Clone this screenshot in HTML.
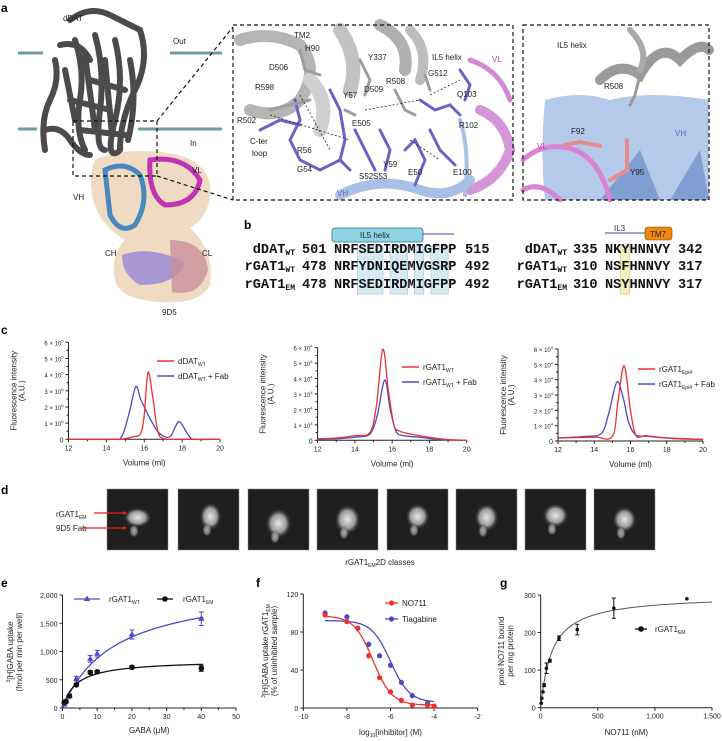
<!DOCTYPE html>
<html><head><meta charset="utf-8"><style>
body{margin:0;background:#fff}
svg{display:block;font-family:"Liberation Sans",Arial,sans-serif}
.lab{font-weight:bold;font-size:12px}
.t{font-size:8px;fill:#222}
.seq{font-family:"Liberation Mono",monospace;font-weight:bold;font-size:13.6px;fill:#111}
.ax{stroke:#222;stroke-width:1;fill:none}
</style></head><body>
<svg id="fig" width="722" height="741" viewBox="0 0 722 741" xmlns="http://www.w3.org/2000/svg">
<g>
<text class="lab" x="1" y="12">a</text>
<g stroke="#6f9aa3" stroke-width="3">
<line x1="18" y1="53" x2="43" y2="53"/><line x1="170" y1="53" x2="222" y2="53"/>
<line x1="18" y1="129" x2="37" y2="129"/><line x1="138" y1="129" x2="222" y2="129"/>
</g>
<g>
<path d="M95,160 Q120,148 160,152 Q205,156 210,185 Q212,215 190,228 Q215,250 210,285 Q200,305 160,302 Q120,300 115,280 Q110,255 125,240 Q100,225 93,200 Q88,175 95,160Z" fill="#ecd7bb" opacity="0.9"/>
<path d="M105,170 Q125,160 140,175 Q150,200 135,225 Q120,235 110,215 Z" fill="none" stroke="#4a86c0" stroke-width="5"/>
<path d="M150,160 Q185,155 200,180 Q195,205 165,205 Q148,195 150,160Z" fill="none" stroke="#c232b4" stroke-width="5"/>
<path d="M122,255 Q150,245 185,262 Q178,285 140,285 Q122,275 122,255Z" fill="#9b8bd6" opacity="0.85"/>
<path d="M170,240 Q205,240 208,270 Q200,298 172,292 Z" fill="#c9909c" opacity="0.8"/>
</g>
<g fill="none" stroke="#4b4b4b" stroke-width="6" stroke-linecap="round">
<path d="M70,20 Q90,5 110,15 T140,30 Q150,60 135,90 T120,150"/>
<path d="M55,60 Q60,80 50,100 T45,150"/>
<path d="M75,40 Q85,70 80,100 T85,150"/>
<path d="M95,35 Q105,70 100,110 T105,150"/>
<path d="M115,40 Q125,80 115,120 T118,152"/>
<path d="M60,45 Q80,40 90,60"/>
<path d="M45,130 Q60,125 70,140 T90,155"/>
<path d="M130,60 Q138,100 128,140"/>
<path d="M65,70 L75,120"/><path d="M85,55 L95,130"/><path d="M105,60 L112,135"/>
<path d="M90,80 L125,90"/><path d="M70,100 L110,110"/><path d="M80,130 L125,135"/>
</g>
<text class="t" x="63" y="21" font-size="9">dDAT</text>
<text class="t" x="173" y="44" font-size="9">Out</text>
<text class="t" x="190" y="146" font-size="9">In</text>
<text class="t" x="73" y="200" font-size="9">VH</text>
<text class="t" x="192" y="173" font-size="9">VL</text>
<text class="t" x="105" y="256" font-size="9">CH</text>
<text class="t" x="202" y="256" font-size="9">CL</text>
<text class="t" x="162" y="315" font-size="9">9D5</text>
<g fill="none" stroke="#111" stroke-width="1.2" stroke-dasharray="4,3">
<rect x="73" y="121" width="84" height="55"/>
<line x1="157" y1="121" x2="233" y2="27"/><line x1="157" y1="176" x2="233" y2="200"/>
</g>
<g>
<g fill="none" stroke-linecap="round">
<path d="M240,40 Q270,30 300,45 Q320,70 300,100 Q280,120 250,110" stroke="#b5b5b5" stroke-width="12"/>
<path d="M340,30 Q360,60 350,90" stroke="#c2c2c2" stroke-width="14"/>
<path d="M380,25 Q410,40 405,70" stroke="#b0b0b0" stroke-width="12"/>
<path d="M410,30 Q430,50 420,80" stroke="#bdbdbd" stroke-width="10"/>
<path d="M310,80 Q330,100 320,130" stroke="#d0d0d0" stroke-width="14"/>
<path d="M480,110 Q505,120 510,150 Q500,180 470,190" stroke="#d596d8" stroke-width="10"/>
<path d="M470,60 Q500,70 510,100" stroke="#d08ad2" stroke-width="5"/>
<path d="M340,195 Q380,175 420,190 Q450,200 470,180" stroke="#a8c0e6" stroke-width="10"/>
<path d="M460,120 Q470,150 465,195" stroke="#a8c0e6" stroke-width="4"/>
<g stroke="#6a62c8" stroke-width="3">
<path d="M295,100 L300,120 L290,140 L300,160 L320,170 L340,160 L350,170"/>
<path d="M330,90 L340,110 L345,140 L340,160"/>
<path d="M355,130 L365,150 L375,170"/>
<path d="M380,130 L390,150 L385,170"/>
<path d="M405,150 L415,140 L425,160 L415,185"/>
<path d="M420,100 L435,110 L450,105 L460,115"/>
<path d="M430,130 L440,150 L455,165"/>
<path d="M460,70 L470,85 L465,100"/>
<path d="M260,130 L280,120 L300,125"/>
</g>
<g stroke="#9e9e9e" stroke-width="3">
<path d="M270,110 L290,105 L310,100"/><path d="M300,50 L305,70 L320,75"/>
<path d="M360,60 L370,80 L365,95"/><path d="M395,90 L405,110 L415,115"/>
<path d="M425,75 L430,90"/><path d="M345,110 L355,115"/>
</g>
</g>
<g stroke="#222" stroke-width="0.8" stroke-dasharray="2,2">
<line x1="270" y1="115" x2="350" y2="140"/><line x1="300" y1="95" x2="330" y2="150"/>
<line x1="365" y1="110" x2="420" y2="100"/><line x1="430" y1="95" x2="460" y2="80"/>
<line x1="410" y1="140" x2="440" y2="160"/>
</g>
<g font-size="8" fill="#222">
<text x="294" y="38">TM2</text><text x="305" y="51">H90</text><text x="368" y="60">Y337</text>
<text x="432" y="60">IL5 helix</text><text x="269" y="70">D506</text><text x="428" y="76">G512</text>
<text x="255" y="90">R598</text><text x="386" y="84">R508</text><text x="343" y="98">Y57</text>
<text x="364" y="92">D509</text><text x="457" y="97">Q103</text><text x="237" y="123">R502</text>
<text x="352" y="126">E505</text><text x="459" y="128">R102</text><text x="250" y="144">C-ter</text>
<text x="252" y="156">loop</text><text x="297" y="153">R56</text><text x="297" y="172">G54</text>
<text x="359" y="179">S52</text><text x="373" y="179">S53</text><text x="383" y="167">Y59</text>
<text x="408" y="175">E50</text><text x="453" y="175">E100</text>
</g>
<text x="337" y="196" font-size="8" fill="#6a62c8">VH</text>
<text x="492" y="62" font-size="8" fill="#c040b8">VL</text>
<rect x="233" y="25" width="280" height="175" fill="none" stroke="#111" stroke-width="1.2" stroke-dasharray="4,3"/>
</g>
<g>
<path d="M545,100 Q580,90 610,100 Q650,90 709,100 L709,200 L545,200 Q540,150 545,100Z" fill="#b5c9ea"/>
<path d="M600,200 L640,150 L660,200Z M670,200 L700,150 L709,200Z" fill="#7f9fd3"/>
<g fill="none" stroke-linecap="round">
<path d="M600,80 Q620,60 640,75 Q660,40 680,60 Q700,40 709,50" stroke="#9a9a9a" stroke-width="10"/>
<path d="M630,30 Q650,50 640,70" stroke="#aaa" stroke-width="6"/>
<path d="M523,160 Q545,140 575,150 Q600,160 610,200" stroke="#d884d4" stroke-width="5"/>
<path d="M523,190 Q540,180 560,200" stroke="#d884d4" stroke-width="5"/>
<path d="M640,75 L635,95 L630,105" stroke="#9a9a9a" stroke-width="3"/>
<path d="M565,145 L580,142 L600,146" stroke="#e58c8c" stroke-width="4"/>
<path d="M627,140 L627,170 L610,180" stroke="#e58c8c" stroke-width="4"/>
</g>
<g font-size="8" fill="#222"><text x="557" y="48">IL5 helix</text><text x="604" y="89">R508</text><text x="571" y="134">F92</text><text x="630" y="175">Y95</text></g>
<text x="537" y="149" font-size="8" fill="#c040b8">VL</text>
<text x="675" y="136" font-size="8" fill="#6a62c8">VH</text>
<rect x="523" y="25" width="186" height="175" fill="none" stroke="#111" stroke-width="1.2" stroke-dasharray="4,3"/>
</g>
</g>
<g>
<text class="lab" x="244" y="229">b</text>
<rect x="332" y="228" width="91" height="14" rx="3" fill="#8fd4e6" stroke="#3a6a80" stroke-width="0.8"/>
<text x="360" y="238" font-size="8" fill="#222">IL5 helix</text>
<line x1="423" y1="234" x2="454" y2="234" stroke="#4a3fa0" stroke-width="1"/>
<line x1="605" y1="233" x2="645" y2="233" stroke="#4a3fa0" stroke-width="1"/>
<text x="614" y="231" font-size="8" fill="#333">IL3</text>
<rect x="645" y="227" width="27" height="13" rx="3" fill="#f0880c" stroke="#7a4200" stroke-width="0.6"/>
<text x="650" y="237" font-size="8" fill="#222">TM7</text>
<g id="hl" fill="#d6eaf2" stroke="#a7cfe0" stroke-width="0.8"></g>
<g id="seqs"></g>
</g>
<text class="lab" x="1" y="334">c</text>
<g id="pc"></g>
<g>
<text class="lab" x="1" y="494">d</text>
<defs><radialGradient id="blob"><stop offset="0" stop-color="#e8e8e8"/><stop offset="0.6" stop-color="#9a9a9a"/><stop offset="1" stop-color="#2a2a2a" stop-opacity="0"/></radialGradient></defs>
<g id="classes"></g>
<text x="56" y="517" font-size="8" fill="#222">rGAT1<tspan font-size="5" dy="2">EM</tspan></text>
<text x="56" y="531" font-size="8" fill="#222">9D5 Fab</text>
<line x1="94" y1="513" x2="125" y2="513" stroke="#e02020" stroke-width="1.2"/><path d="M127,513 l-4,-2 v4z" fill="#e02020"/>
<line x1="82" y1="528" x2="125" y2="528" stroke="#e02020" stroke-width="1.2"/><path d="M127,528 l-4,-2 v4z" fill="#e02020"/>
<text x="380" y="565" font-size="8" fill="#222" text-anchor="middle">rGAT1<tspan font-size="5" dy="2">EM</tspan><tspan dy="-2">2D classes</tspan></text>
</g>
<text class="lab" x="1" y="587">e</text>
<text class="lab" x="256" y="587">f</text>
<text class="lab" x="500" y="587">g</text>
<g id="pe"></g><g id="pf"></g><g id="pg"></g>
</svg>
<script>
const c1RedVol=[12,14.5,15,15.4,15.8,16.0,16.2,16.45,16.7,17.0,18,20];
const c1Red=[0,0,0.05,0.15,0.35,1.5,4.15,2.6,0.6,0.05,0,0];
const c1BlueVol=[12,14.3,14.8,15.2,15.55,15.8,16.0,16.3,16.7,17.1,17.4,17.65,17.85,18.1,18.4,18.7,20];
const c1Blue=[0,0,0.15,1.6,3.25,2.5,2.0,1.3,0.5,0.15,0.2,0.8,1.1,0.7,0.15,0,0];
const c2RedVol=[12,13,14,14.8,15.15,15.5,15.8,16.1,16.4,17,18,19,20];
const c2Red=[0.1,0.15,0.3,0.5,2.2,5.9,3.2,1.0,0.6,0.4,0.2,0.05,0];
const c2BlueVol=[12,13,14,14.8,15.2,15.6,15.9,16.2,16.6,17.5,18.5,20];
const c2Blue=[0.05,0.1,0.2,0.4,1.6,3.9,2.0,0.6,0.3,0.2,0.05,0];
const c3RedVol=[12,14,15,15.3,15.65,16.0,16.3,16.8,17.5,18.5,20];
const c3Red=[0.2,0.25,0.3,2.5,4.9,2.0,0.35,0.35,0.25,0.15,0.1];
const c3BlueVol=[12,13.5,14.4,14.8,15.25,15.6,15.9,16.3,17,18,20];
const c3Blue=[0.2,0.3,0.5,1.8,3.85,2.8,1.2,0.4,0.3,0.2,0.1];
const cTicksX=[12,14,16,18,20];
const cTicksY=[1,2,3,4,5,6];

const eGaba=[0.5,1,2,4,8,10,20,40];
const eWT=[60,130,220,520,870,960,1300,1580];
const eWTerr=[20,20,30,40,60,60,80,120];
const eEM=[100,110,210,410,630,640,720,700];
const eEMerr=[15,15,20,25,30,25,30,50];
const eFitWT=[2200,15];
const eFitEM=[850,4];
const eTicksX=[0,10,20,30,40,50];
const eTicksY=[0,500,1000,1500,2000];
const eTickLabelsY=["0","500","1,000","1,500","2,000"];

const fLog=[-9,-8,-7.5,-7,-6.5,-6,-5.5,-5,-4.3,-4];
const fNO711=[98,91,84,55,32,17,8,3,3,2];
const fTiag=[100,96,84,67,55,45,27,13,5,2];
const fErr=[2,3,2,3,2,2,3,2,2,1];
const fFitNO=[97,3,-6.8,1.0];
const fFitTi=[92,6,-6.0,1.0];
const fTicksX=[-10,-8,-6,-4,-2];
const fTicksY=[0,40,80,120];

const gConc=[5,10,20,30,50,80,160,320,640,1280];
const gBound=[12,25,42,60,105,125,185,208,265,290];
const gErr=[0,0,0,4,14,4,6,14,27,0];
const gFit=[300,100];
const gTicksX=[0,500,1000,1500];
const gTickLabelsX=["0","500","1,000","1,500"];
const gTicksY=[0,100,200,300];

const NS="http://www.w3.org/2000/svg";
function mk(tag,attrs,parent){const e=document.createElementNS(NS,tag);for(const k in attrs)e.setAttribute(k,attrs[k]);parent.appendChild(e);return e;}
function lin(d0,d1,r0,r1){return v=>r0+(v-d0)/(d1-d0)*(r1-r0);}
function smooth(pts){let d="M"+pts[0][0]+","+pts[0][1];for(let i=0;i<pts.length-1;i++){const p0=pts[Math.max(0,i-1)],p1=pts[i],p2=pts[i+1],p3=pts[Math.min(pts.length-1,i+2)];const c1x=p1[0]+(p2[0]-p0[0])/6,c1y=p1[1]+(p2[1]-p0[1])/6,c2x=p2[0]-(p3[0]-p1[0])/6,c2y=p2[1]-(p3[1]-p1[1])/6;d+=` C${c1x},${c1y} ${c2x},${c2y} ${p2[0]},${p2[1]}`;}return d;}
function txt(parent,x,y,s,opt){const t=mk("text",Object.assign({x:x,y:y,"font-size":8,fill:"#222"},opt||{}),parent);t.textContent=s;return t;}

(function(){
const seqG=document.getElementById("seqs"),hl=document.getElementById("hl");
const names=["dDAT","rGAT1","rGAT1"],subs=["WT","WT","EM"];
const lnum=["501","478","478"],rnum=["515","492","492"],seqL=["NRFSEDIRDMIGFPP","NRFYDNIQEMVGSRP","NRFSEDIRDMIGFPP"];
const lnum2=["335","310","310"],rnum2=["342","317","317"],seqR=["NKYHNNVY","NSFHNNVY","NSYHNNVY"];
const rows=[253,270,288],cw=8.16;
[[3,3],[7,2],[10,1],[12,2]].forEach(([s,n])=>{const r=mk("rect",{x:334+s*cw-1,y:246,width:n*cw+1,height:48},hl);});
const yr=mk("rect",{x:605+2*cw-1,y:246,width:cw+1,height:48,fill:"#f6efbf",stroke:"#e0d080"},hl);


const hlSet=new Set([3,4,5,7,8,10,12,13]);
rows.forEach((y,i)=>{
 [295,567].forEach(xr=>{const t=mk("text",{x:xr,y:y,"text-anchor":"end",class:"seq"},seqG);t.textContent=names[i];const s=mk("tspan",{"font-size":"8",dy:"2"},t);s.textContent=subs[i];});
 const a=mk("text",{x:302,y:y,class:"seq"},seqG);a.textContent=lnum[i];
 const b=mk("text",{x:465,y:y,class:"seq"},seqG);b.textContent=rnum[i];
 const c=mk("text",{x:573,y:y,class:"seq"},seqG);c.textContent=lnum2[i];
 const d=mk("text",{x:678,y:y,class:"seq"},seqG);d.textContent=rnum2[i];
 seqL[i].split("").forEach((ch,k)=>{const t=mk("text",{x:334+k*cw,y:y,class:"seq",fill:hlSet.has(k)?"#7fa7bd":"#111"},seqG);t.textContent=ch;});
 seqR[i].split("").forEach((ch,k)=>{const t=mk("text",{x:605+k*cw,y:y,class:"seq",fill:k===2?"#c8b860":"#111"},seqG);t.textContent=ch;});
});
})();

function fsecPlot(g,x0,x1,y0,y6,exp,red,redV,blue,blueV,name,legX,legY,sub){
 const sx=lin(12,20,x0,x1),sy=lin(0,6,y0,y6);
 const gg=mk("g",{},g);
 
 
 mk("line",{x1:x0,y1:y6,x2:x0,y2:y0,class:"ax"},gg);
 mk("line",{x1:x0,y1:y0,x2:x1,y2:y0,class:"ax"},gg);
 for(let v=12;v<=20;v+=1){mk("line",{x1:sx(v),y1:y0,x2:sx(v),y2:y0+(v%2?2:3),class:"ax"},gg);}
 cTicksX.forEach(v=>txt(gg,sx(v),y0+11,String(v),{"text-anchor":"middle","font-size":7}));
 mk("line",{x1:x0-3,y1:y0,x2:x0,y2:y0,class:"ax"},gg);
 txt(gg,x0-5,y0+3,"0",{"text-anchor":"end","font-size":7});
 for(let v=0.5;v<=6;v+=0.5){mk("line",{x1:x0-(v%1?2:3),y1:sy(v),x2:x0,y2:sy(v),class:"ax"},gg);}
 cTicksY.forEach(v=>{const t=txt(gg,x0-5,sy(v)+3,v+" × 10",{"text-anchor":"end","font-size":6});const s=mk("tspan",{"font-size":4,dy:-3},t);s.textContent=exp;});
 txt(gg,(x0+x1)/2,y0+26,"Volume (ml)",{"text-anchor":"middle","font-size":8});
 const cy=(y0+y6)/2;
 txt(gg,0,0,"Fluorescence intensity",{"text-anchor":"middle","font-size":8,transform:`translate(${x0-52},${cy}) rotate(-90)`});
 txt(gg,0,0,"(A.U.)",{"text-anchor":"middle","font-size":8,transform:`translate(${x0-44},${cy}) rotate(-90)`});
 const pb=mk("path",{d:smooth(blueV.map((v,i)=>[sx(v),sy(blue[i])])),fill:"none",stroke:"#4a4ac8","stroke-width":1.3},gg);
 
 
 const pr=mk("path",{d:smooth(redV.map((v,i)=>[sx(v),sy(red[i])])),fill:"none",stroke:"#f03030","stroke-width":1.3},gg);
 
 
 mk("line",{x1:legX,y1:legY,x2:legX+17,y2:legY,stroke:"#f03030","stroke-width":1.5},gg);
 mk("line",{x1:legX,y1:legY+15,x2:legX+17,y2:legY+15,stroke:"#4a4ac8","stroke-width":1.5},gg);
 const base=sub[0];
 let t=txt(gg,legX+21,legY+3,base,{"font-size":8});mk("tspan",{"font-size":5,dy:2},t).textContent=sub[1];
 t=txt(gg,legX+21,legY+18,base,{"font-size":8});mk("tspan",{"font-size":5,dy:2},t).textContent=sub[1];mk("tspan",{dy:-2},t).textContent=" + Fab";
}
const pc=document.getElementById("pc");
fsecPlot(pc,68.5,220,439.3,342.3,"5",c1Red,c1RedVol,c1Blue,c1BlueVol,"fsec-ddat-plot",157,361,["dDAT","WT"]);
fsecPlot(pc,317.6,466.7,440.3,347.7,"4",c2Red,c2RedVol,c2Blue,c2BlueVol,"fsec-rgat1-plot",402,367,["rGAT1","WT"]);
fsecPlot(pc,558,703,441,349,"4",c3Red,c3RedVol,c3Blue,c3BlueVol,"fsec-rgat1-epi4-plot",638,369,["rGAT1","Epi4"]);

(function(){
const g=document.getElementById("classes");
const xs=[107,178,248,317,387,456,525,594];
const blobs=[[0,-2,14,10],[2,-3,11,14],[0,4,13,15],[0,0,13,15],[0,-3,12,13],[0,-2,12,14],[0,-4,13,12],[0,0,12,13]];
xs.forEach((x,i)=>{
 const r=mk("rect",{x:x,y:489,width:61,height:61,fill:"#1f1f1f",stroke:"#888","stroke-width":0.5},g);
 
 
 const b=blobs[i];
 mk("ellipse",{cx:x+30.5+b[0],cy:519.5+b[1],rx:b[2],ry:b[3],fill:"url(#blob)"},g);
 mk("ellipse",{cx:x+27+b[0],cy:533+b[1],rx:5,ry:7,fill:"url(#blob)",opacity:0.7},g);
});
})();

(function(){
const g=document.getElementById("pe");


const x0=62.5,x1=236,y0=708,y1=595,sx=lin(0,50,x0,x1),sy=lin(0,2000,y0,y1);
mk("line",{x1:x0,y1:y1,x2:x0,y2:y0,class:"ax"},g);mk("line",{x1:x0,y1:y0,x2:x1,y2:y0,class:"ax"},g);
eTicksX.forEach(v=>{mk("line",{x1:sx(v),y1:y0,x2:sx(v),y2:y0+3,class:"ax"},g);txt(g,sx(v),y0+11,String(v),{"text-anchor":"middle","font-size":7});});
for(let v=5;v<50;v+=10)mk("line",{x1:sx(v),y1:y0,x2:sx(v),y2:y0+2,class:"ax"},g);
eTicksY.forEach((v,i)=>{mk("line",{x1:x0-3,y1:sy(v),x2:x0,y2:sy(v),class:"ax"},g);txt(g,x0-5,sy(v)+3,eTickLabelsY[i],{"text-anchor":"end","font-size":7});});
txt(g,(x0+x1)/2,733,"GABA (μM)",{"text-anchor":"middle","font-size":8});
let t=txt(g,0,0,"",{"text-anchor":"middle","font-size":8,transform:"translate(13,652) rotate(-90)"});
mk("tspan",{"font-size":5,dy:-3},t).textContent="3";mk("tspan",{dy:3},t).textContent="[H]GABA uptake";
txt(g,0,0,"(fmol per min per well)",{"text-anchor":"middle","font-size":8,transform:"translate(22,652) rotate(-90)"});
function curve(p,color){const pts=[];for(let i=0;i<=60;i++){const v=0.05+i*(40.5/60);pts.push([sx(v),sy(p[0]*v/(p[1]+v))]);}const c=mk("path",{d:"M"+pts.map(q=>q.join(",")).join(" L"),fill:"none",stroke:color,"stroke-width":1.3},g);return c;}
const cw=curve(eFitWT,"#4a4ac8");
const ce=curve(eFitEM,"#111");
eGaba.forEach((v,i)=>{
 [[eWT,eWTerr,"#4a4ac8","tri"],[eEM,eEMerr,"#111","dot"]].forEach(([ys,es,col,sh])=>{
  const X=sx(v),Y=sy(ys[i]);
  mk("line",{x1:X,y1:sy(ys[i]+es[i]),x2:X,y2:sy(ys[i]-es[i]),stroke:col,"stroke-width":1},g);
  mk("line",{x1:X-2.5,y1:sy(ys[i]+es[i]),x2:X+2.5,y2:sy(ys[i]+es[i]),stroke:col,"stroke-width":1},g);
  mk("line",{x1:X-2.5,y1:sy(ys[i]-es[i]),x2:X+2.5,y2:sy(ys[i]-es[i]),stroke:col,"stroke-width":1},g);
  const m=sh==="tri"?mk("path",{d:`M${X},${Y-3.5} L${X+3.2},${Y+2} L${X-3.2},${Y+2}Z`,fill:col},g):mk("circle",{cx:X,cy:Y,r:2.8,fill:col},g);
  
  
 });
});
mk("line",{x1:74,y1:599,x2:100,y2:599,stroke:"#4a4ac8","stroke-width":1.3},g);mk("path",{d:"M87,595.5 L90.2,601 L83.8,601Z",fill:"#4a4ac8"},g);
t=txt(g,109,602,"rGAT1",{"font-size":8});mk("tspan",{"font-size":5,dy:2},t).textContent="WT";
mk("line",{x1:157,y1:599,x2:173,y2:599,stroke:"#111","stroke-width":1.3},g);mk("circle",{cx:165,cy:599,r:2.8,fill:"#111"},g);
t=txt(g,183,602,"rGAT1",{"font-size":8});mk("tspan",{"font-size":5,dy:2},t).textContent="EM";
})();

(function(){
const g=document.getElementById("pf");


const x0=303.3,x1=477.7,y0=708,y1=594,sx=lin(-10,-2,x0,x1),sy=lin(0,120,y0,y1);
mk("line",{x1:x0,y1:y1,x2:x0,y2:y0,class:"ax"},g);mk("line",{x1:x0,y1:y0,x2:x1,y2:y0,class:"ax"},g);
fTicksX.forEach(v=>{mk("line",{x1:sx(v),y1:y0,x2:sx(v),y2:y0+3,class:"ax"},g);txt(g,sx(v),y0+11,String(v),{"text-anchor":"middle","font-size":7});});
fTicksY.forEach(v=>{mk("line",{x1:x0-3,y1:sy(v),x2:x0,y2:sy(v),class:"ax"},g);txt(g,x0-5,sy(v)+3,String(v),{"text-anchor":"end","font-size":7});});
let t=txt(g,(x0+x1)/2,735,"log",{"text-anchor":"middle","font-size":8});mk("tspan",{"font-size":5,dy:2},t).textContent="10";mk("tspan",{dy:-2},t).textContent="[inhibitor] (M)";
t=txt(g,0,0,"",{"text-anchor":"middle","font-size":8,transform:"translate(268,651) rotate(-90)"});
mk("tspan",{"font-size":5,dy:-3},t).textContent="3";mk("tspan",{dy:3},t).textContent="[H]GABA uptake rGAT1";mk("tspan",{"font-size":5,dy:2},t).textContent="EM";
txt(g,0,0,"(% of uninhibited sample)",{"text-anchor":"middle","font-size":8,transform:"translate(277,651) rotate(-90)"});
function curve(p,col){const pts=[];for(let i=0;i<=80;i++){const v=-9+i*5/80;pts.push([sx(v),sy(p[1]+(p[0]-p[1])/(1+Math.pow(10,(v-p[2])*p[3])))]);}return mk("path",{d:"M"+pts.map(q=>q.join(",")).join(" L"),fill:"none",stroke:col,"stroke-width":1.3},g);}
const ct=curve(fFitTi,"#4a4ac8");
const cn=curve(fFitNO,"#f03030");
fLog.forEach((v,i)=>{
 [[fTiag,"#4a4ac8"],[fNO711,"#f03030"]].forEach(([ys,col])=>{
  const X=sx(v);
  mk("line",{x1:X,y1:sy(ys[i]+fErr[i]),x2:X,y2:sy(ys[i]-fErr[i]),stroke:col},g);
  const c=mk("circle",{cx:X,cy:sy(ys[i]),r:2.6,fill:col},g);
  
  
 });
});
mk("line",{x1:385,y1:603,x2:398,y2:603,stroke:"#f03030","stroke-width":1.3},g);mk("circle",{cx:391.5,cy:603,r:2.6,fill:"#f03030"},g);
txt(g,402,606,"NO711",{"font-size":8});
mk("line",{x1:385,y1:619,x2:398,y2:619,stroke:"#4a4ac8","stroke-width":1.3},g);mk("circle",{cx:391.5,cy:619,r:2.6,fill:"#4a4ac8"},g);
txt(g,402,622,"Tiagabine",{"font-size":8});
})();

(function(){
const g=document.getElementById("pg");


const x0=540.7,x1=712,y0=707.7,y1=595,sx=lin(0,1500,x0,x1),sy=lin(0,300,y0,y1);
mk("line",{x1:x0,y1:y1,x2:x0,y2:y0,class:"ax"},g);mk("line",{x1:x0,y1:y0,x2:x1,y2:y0,class:"ax"},g);
gTicksX.forEach((v,i)=>{mk("line",{x1:sx(v),y1:y0,x2:sx(v),y2:y0+3,class:"ax"},g);txt(g,sx(v),y0+11,gTickLabelsX[i],{"text-anchor":"middle","font-size":7});});
gTicksY.forEach(v=>{mk("line",{x1:x0-3,y1:sy(v),x2:x0,y2:sy(v),class:"ax"},g);txt(g,x0-5,sy(v)+3,String(v),{"text-anchor":"end","font-size":7});});
txt(g,(x0+x1)/2,735,"NO711 (nM)",{"text-anchor":"middle","font-size":8});
txt(g,0,0,"pmol NO711 bound",{"text-anchor":"middle","font-size":8,transform:"translate(504,651) rotate(-90)"});
txt(g,0,0,"per mg protein",{"text-anchor":"middle","font-size":8,transform:"translate(513,651) rotate(-90)"});
const pts=[];for(let i=0;i<=150;i++){const v=i*10;pts.push([sx(v),sy(gFit[0]*v/(gFit[1]+v))]);}
const c=mk("path",{d:"M"+pts.map(q=>q.join(",")).join(" L"),fill:"none",stroke:"#555","stroke-width":1},g);

gConc.forEach((v,i)=>{
 const X=sx(v);
 if(gErr[i])mk("line",{x1:X,y1:sy(gBound[i]+gErr[i]),x2:X,y2:sy(gBound[i]-gErr[i]),stroke:"#111"},g);
 if(gErr[i]){mk("line",{x1:X-2,y1:sy(gBound[i]+gErr[i]),x2:X+2,y2:sy(gBound[i]+gErr[i]),stroke:"#111"},g);mk("line",{x1:X-2,y1:sy(gBound[i]-gErr[i]),x2:X+2,y2:sy(gBound[i]-gErr[i]),stroke:"#111"},g);}
 const p=mk("circle",{cx:X,cy:sy(gBound[i]),r:1.8,fill:"#111"},g);
 
 
});
mk("line",{x1:635,y1:629,x2:647,y2:629,stroke:"#111","stroke-width":1.3},g);mk("circle",{cx:641,cy:629,r:2.8,fill:"#111"},g);
const t=txt(g,655,632,"rGAT1",{"font-size":8});mk("tspan",{"font-size":5,dy:2},t).textContent="EM";
})();
</script>
</body></html>
